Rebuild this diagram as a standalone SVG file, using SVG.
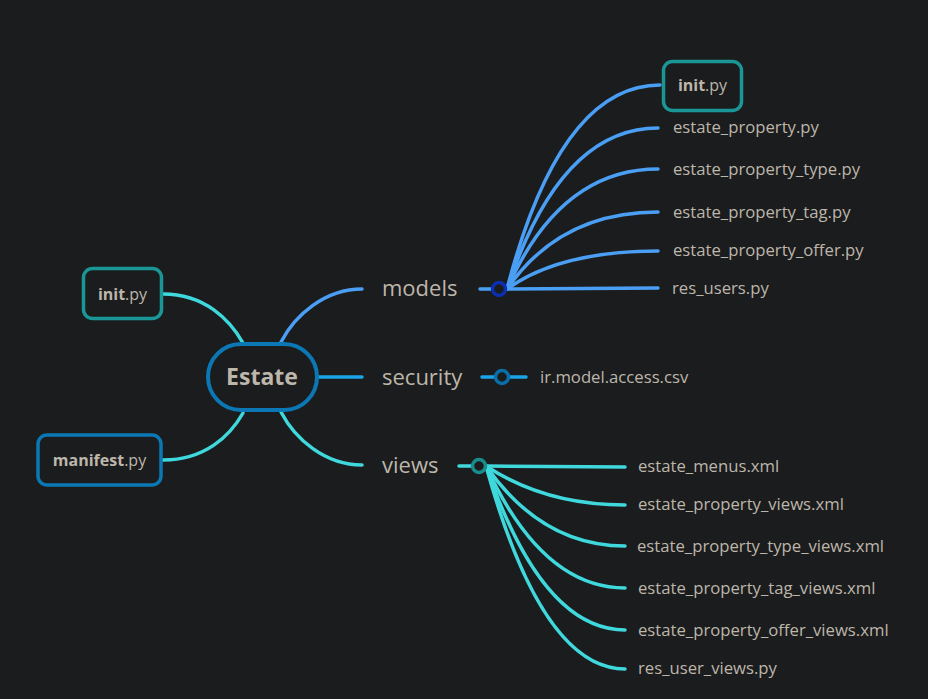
<svg xmlns="http://www.w3.org/2000/svg" width="928" height="699" viewBox="0 0 928 699">
<style>
text{font-family:"Open Sans","Noto Sans","Liberation Sans",sans-serif;fill:#bdb6aa}
.leaf{font-size:16.7px}
.box-t{font-size:16px}
.branch{font-size:22px}
.c{fill:none;stroke-linecap:round}
.cy{stroke:#3fd8dc;stroke-width:3.5}
.bl{stroke:#4a9ff5;stroke-width:3.5}
.sc{stroke:#1ba3e8;stroke-width:3.5}
.box{fill:#1b1c1e;stroke-width:3.5}
</style>
<rect width="928" height="699" fill="#1b1c1e"/>
<g id="connectors">
<path class="c cy" d="M163,294 C205,294 230,320 243,343"/>
<path class="c cy" d="M163,460 C205,460 230,436 243,413"/>
<path class="c bl" d="M281,342 C295,315 325,289 362,289"/>
<path class="c sc" d="M318,377 L362,377"/>
<path class="c cy" d="M281,412 C295,439 325,465 362,465"/>
<path class="c bl" d="M480,289 L492,289"/>
<path class="c bl" d="M507,289 Q560,85 660,85"/>
<path class="c bl" d="M507,289 Q560,128 658,128"/>
<path class="c bl" d="M507,289 Q560,169 658,169"/>
<path class="c bl" d="M507,289 Q560,212 658,212"/>
<path class="c bl" d="M507,289 Q560,251 658,251"/>
<path class="c bl" d="M507,289 L658,288"/>
<path class="c sc" d="M482,377 L526,377"/>
<path class="c cy" d="M459,466 L472,466"/>
<path class="c cy" d="M486,466 L625,467"/>
<path class="c cy" d="M486,466 Q545,505 625,505"/>
<path class="c cy" d="M486,466 Q542,546 625,546"/>
<path class="c cy" d="M486,466 Q542,588 625,588"/>
<path class="c cy" d="M486,466 Q542,630 625,630"/>
<path class="c cy" d="M486,466 Q542,669 625,669"/>
<circle cx="499" cy="289" r="6.5" fill="#1b1c1e" stroke="#0b2fb0" stroke-width="3.5"/>
<circle cx="502" cy="377" r="6.5" fill="#1b1c1e" stroke="#0a6fa8" stroke-width="3.5"/>
<circle cx="479" cy="466" r="6.5" fill="#1b1c1e" stroke="#1a8c8c" stroke-width="3.5"/>
</g>
<g id="estate">
<rect x="208" y="344" width="109" height="66" rx="33" fill="#1b1c1e" stroke="#0b78b5" stroke-width="4"/>
<text x="262" y="385" font-size="23" font-weight="bold" text-anchor="middle">Estate</text>
</g>
<g id="init-left">
<rect class="box" x="83.5" y="268.5" width="78" height="50" rx="9" stroke="#1a9696"/>
<text class="box-t" x="122.5" y="299.5" text-anchor="middle"><tspan font-weight="bold">init</tspan>.py</text>
</g>
<g id="manifest">
<rect class="box" x="38" y="435" width="123" height="50" rx="9" stroke="#0b78b5"/>
<text class="box-t" x="99.5" y="465.5" text-anchor="middle"><tspan font-weight="bold">manifest</tspan>.py</text>
</g>
<g id="models"><text class="branch" x="382" y="296">models</text></g>
<g id="security"><text class="branch" x="382" y="385">security</text></g>
<g id="views"><text class="branch" x="382" y="473">views</text></g>
<g id="init-models">
<rect class="box" x="663.5" y="61.5" width="78" height="49" rx="9" stroke="#1a9696"/>
<text class="box-t" x="702.5" y="91" text-anchor="middle"><tspan font-weight="bold">init</tspan>.py</text>
</g>
<g id="estate_property"><text class="leaf" x="673" y="133">estate_property.py</text></g>
<g id="estate_property_type"><text class="leaf" x="673" y="175">estate_property_type.py</text></g>
<g id="estate_property_tag"><text class="leaf" x="673" y="218">estate_property_tag.py</text></g>
<g id="estate_property_offer"><text class="leaf" x="673" y="256">estate_property_offer.py</text></g>
<g id="res_users"><text class="leaf" x="672" y="294">res_users.py</text></g>
<g id="access"><text class="leaf" x="540" y="383">ir.model.access.csv</text></g>
<g id="estate_menus"><text class="leaf" x="638" y="472">estate_menus.xml</text></g>
<g id="estate_property_views"><text class="leaf" x="638" y="510">estate_property_views.xml</text></g>
<g id="estate_property_type_views"><text class="leaf" x="637" y="552">estate_property_type_views.xml</text></g>
<g id="estate_property_tag_views"><text class="leaf" x="638" y="594">estate_property_tag_views.xml</text></g>
<g id="estate_property_offer_views"><text class="leaf" x="638" y="636">estate_property_offer_views.xml</text></g>
<g id="res_user_views"><text class="leaf" x="638" y="674">res_user_views.py</text></g>
</svg>
